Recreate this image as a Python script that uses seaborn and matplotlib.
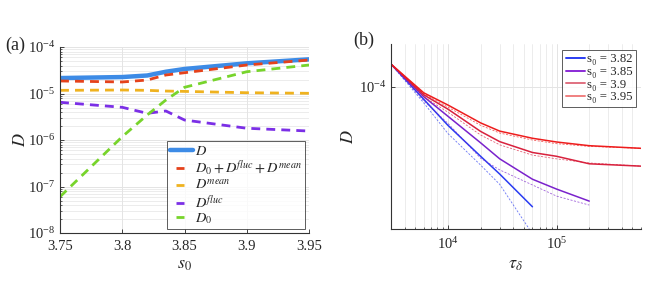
import numpy as np
import matplotlib
matplotlib.use('Agg')
import matplotlib.pyplot as plt
import matplotlib.ticker as mticker
from matplotlib.lines import Line2D
from matplotlib.legend_handler import HandlerBase
import seaborn as sns

# ---- panel (a) data ----
s0 = [3.75, 3.8, 3.82, 3.835, 3.85, 3.9, 3.95]
D_total = [2.15e-5, 2.26e-5, 2.44e-5, 2.94e-5, 3.37e-5, 4.46e-5, 5.43e-5]
D_sum = [1.86e-5, 1.77e-5, 1.95e-5, 2.50e-5, 2.80e-5, 4.10e-5, 5.25e-5]
D_mean = [1.17e-5, 1.19e-5, 1.17e-5, 1.13e-5, 1.11e-5, 1.04e-5, 1.01e-5]
D_fluc = [6.47e-6, 5.05e-6, 3.75e-6, 4.21e-6, 2.69e-6, 1.79e-6, 1.56e-6]
D_0 = [6.04e-8, 1.18e-6, 3.45e-6, 7.24e-6, 1.36e-5, 2.94e-5, 4.10e-5]

# ---- panel (b) data ----
tau = [3e3, 6e3, 1e4, 2e4, 3e4, 6e4, 1e5, 2e5, 6e5]
D_382 = [1.29e-4, 8.67e-5, 6.46e-5, 4.55e-5, 3.72e-5, 2.57e-5]
D_385 = [1.29e-4, 8.93e-5, 7.16e-5, 5.30e-5, 4.42e-5, 3.51e-5, 3.14e-5, 2.74e-5]
D_390 = [1.29e-4, 9.12e-5, 7.76e-5, 6.03e-5, 5.37e-5, 4.75e-5, 4.55e-5, 4.18e-5, 4.07e-5]
D_395 = [1.29e-4, 9.33e-5, 8.13e-5, 6.64e-5, 6.05e-5, 5.58e-5, 5.35e-5, 5.13e-5, 4.98e-5]
fit_382 = [1.29e-4, 8.32e-5, 5.89e-5, 4.12e-5, 3.31e-5, 1.89e-5]
fit_385 = [1.29e-4, 8.51e-5, 6.61e-5, 4.45e-5, 3.90e-5, 3.29e-5, 2.90e-5, 2.62e-5]
fit_390 = [1.29e-4, 8.91e-5, 7.50e-5, 5.79e-5, 5.18e-5, 4.61e-5, 4.42e-5, 4.22e-5, 4.07e-5]
fit_395 = [1.29e-4, 9.23e-5, 7.94e-5, 6.46e-5, 5.92e-5, 5.47e-5, 5.25e-5, 5.09e-5, 4.98e-5]
s0_labels = ['3.82', '3.85', '3.9', '3.95']


class ShortDash(HandlerBase):
    """legend handle drawn as one short dash, like the dashed curves"""
    def create_artists(self, legend, orig_handle, xdescent, ydescent,
                       width, height, fontsize, trans):
        x0 = -xdescent
        y = (height - ydescent) / 2
        ln = Line2D([x0 + 0.25 * width, x0 + 0.62 * width], [y, y],
                    color=orig_handle.get_color(), lw=orig_handle.get_linewidth(),
                    solid_capstyle='butt')
        ln.set_transform(trans)
        return [ln]


sns.set_style('ticks')
plt.rcParams['font.family'] = ['Liberation Serif', 'DejaVu Serif']
plt.rcParams['mathtext.fontset'] = 'stix'
plt.rcParams['xtick.direction'] = 'in'
plt.rcParams['ytick.direction'] = 'in'

fig = plt.figure(figsize=(6.64, 2.92), dpi=100)
ax1 = fig.add_axes([0.0904, 0.202, 0.375, 0.637])
ax2 = fig.add_axes([0.589, 0.216, 0.3765, 0.633])

grid_c = '#e4e4e4'

# ---- (a) ----
dash = (0, (3.2, 2.2))
sns.lineplot(x=s0, y=D_total, ax=ax1, color='#3d8be6', lw=3.2, label='$D$')
sns.lineplot(x=s0, y=D_sum, ax=ax1, color='#e5421b', lw=2, linestyle=dash,
             label='$D_0 + D^{fluc} + D^{mean}$')
sns.lineplot(x=s0, y=D_mean, ax=ax1, color='#efb21f', lw=2, linestyle=dash,
             label='$D^{mean}$')
sns.lineplot(x=s0, y=D_fluc, ax=ax1, color='#7b2fe6', lw=2, linestyle=dash,
             label='$D^{fluc}$')
sns.lineplot(x=s0, y=D_0, ax=ax1, color='#77d42b', lw=2, linestyle=dash,
             label='$D_0$')
ax1.set_yscale('log')
ax1.set_xlim(3.75, 3.95)
ax1.set_ylim(1e-8, 1e-4)
ax1.set_xticks([3.75, 3.8, 3.85, 3.9, 3.95])
ax1.set_xticklabels(['3.75', '3.8', '3.85', '3.9', '3.95'])
ax1.yaxis.set_major_locator(mticker.LogLocator(base=10, numticks=10))
ax1.yaxis.set_minor_locator(mticker.LogLocator(base=10, subs=np.arange(2, 10), numticks=20))
ax1.yaxis.set_minor_formatter(mticker.NullFormatter())
ax1.grid(True, which='major', color=grid_c, lw=0.7)
ax1.grid(True, which='minor', axis='y', color=grid_c, lw=0.5)
ax1.set_axisbelow(True)
ax1.set_xlabel('$s_0$', fontsize=13, labelpad=2)
ax1.set_ylabel('$D$', fontsize=13, labelpad=-1)
ax1.tick_params(labelsize=10.5, length=3, width=0.6)
ax1.tick_params(axis='x', pad=5)
ax1.tick_params(which='minor', length=1.5, width=0.5)
ax1.text(-0.22, 1.01, '(a)', transform=ax1.transAxes, fontsize=13, va='center')
h, l = ax1.get_legend_handles_labels()
h1 = [Line2D([], [], color=hh.get_color(), lw=3.2 if i == 0 else 2)
      for i, hh in enumerate(h)]
hmap = {hh: ShortDash() for hh in h1[1:]}
leg1 = ax1.legend(h1, l, loc='lower right', fontsize=10.4, frameon=True, fancybox=False,
                  edgecolor='#333333', borderaxespad=0.25, handlelength=1.55,
                  handletextpad=0.15, labelspacing=0.02, borderpad=0.25,
                  handler_map=hmap)
leg1.get_frame().set_linewidth(0.7)

# ---- (b) ----
cols = ['#2a3cf2', '#7a22cc', '#d8213d', '#ee1c1c']
leg_cols = ['#2a3cf2', '#8a2ad6', '#e07080', '#f08080']
sol = [D_382, D_385, D_390, D_395]
fits = [fit_382, fit_385, fit_390, fit_395]
for c, d, f in zip(cols, sol, fits):
    sns.lineplot(x=tau[:len(d)], y=d, ax=ax2, color=c, lw=1.1)
    sns.lineplot(x=tau[:len(f)], y=f, ax=ax2, color=c, lw=0.6, alpha=0.7,
                 linestyle=(0, (2.5, 1.8)))
ax2.set_xscale('log')
ax2.set_yscale('log')
ax2.set_xlim(3e3, 6e5)
ax2.set_ylim(2e-5, 1.62e-4)
ax2.xaxis.set_major_locator(mticker.LogLocator(base=10, numticks=10))
ax2.xaxis.set_minor_locator(mticker.LogLocator(base=10, subs=np.arange(2, 10), numticks=20))
ax2.xaxis.set_minor_formatter(mticker.NullFormatter())
ax2.yaxis.set_major_locator(mticker.FixedLocator([1e-4]))
ax2.yaxis.set_major_formatter(mticker.FixedFormatter(['$\\mathdefault{10^{-4}}$']))
ax2.yaxis.set_minor_locator(mticker.NullLocator())
ax2.grid(True, which='major', color=grid_c, lw=0.7)
ax2.grid(True, which='minor', axis='x', color=grid_c, lw=0.5)
ax2.set_axisbelow(True)
ax2.set_xlabel('$\\tau_\\delta$', fontsize=13, labelpad=3)
ax2.set_ylabel('$D$', fontsize=13, labelpad=1)
ax2.tick_params(labelsize=10.5, length=3, width=0.6)
ax2.tick_params(axis='x', pad=5)
ax2.tick_params(which='minor', length=1.5, width=0.5)
ax2.text(-0.15, 1.02, '(b)', transform=ax2.transAxes, fontsize=13, va='center')
h2 = [Line2D([], [], color=c, lw=1.4) for c in leg_cols]
l2 = ['s\u2080 = ' + s for s in s0_labels]
leg2 = ax2.legend(h2, l2, loc='upper right', fontsize=9.2, frameon=True, fancybox=False,
                  edgecolor='#333333', borderaxespad=0.0, handlelength=1.5,
                  handletextpad=0.1, labelspacing=0.05, borderpad=0.3,
                  bbox_to_anchor=(0.98, 0.97))
leg2.get_frame().set_linewidth(0.7)

for ax in (ax1, ax2):
    for side in ('top', 'right'):
        ax.spines[side].set_visible(False)
    for side in ('left', 'bottom'):
        ax.spines[side].set_linewidth(0.8)
        ax.spines[side].set_color('#333333')

fig.savefig('out.png', dpi=100)
